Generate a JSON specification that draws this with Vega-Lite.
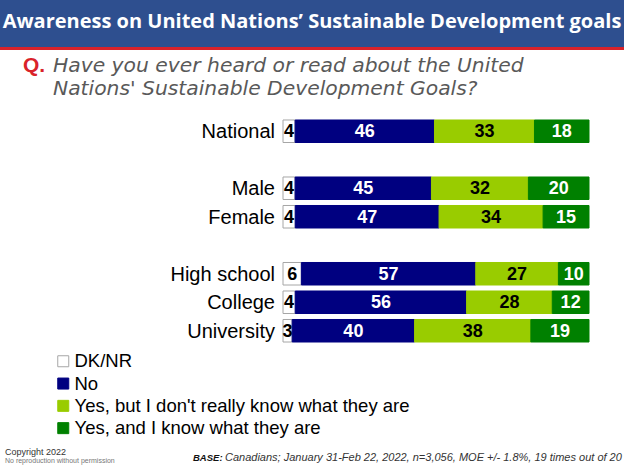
{
  "$schema": "https://vega.github.io/schema/vega-lite/v6.json",
  "width": 624,
  "height": 468,
  "autosize": {"type": "fit", "contains": "padding"},
  "padding": 0,
  "background": "white",
  "config": {"view": {"stroke": null}},
  "data": {"values": [
    {"group": "National", "response": "DK/NR", "value": 4},
    {"group": "National", "response": "No", "value": 46},
    {"group": "National", "response": "Yes, but I don't really know what they are", "value": 33},
    {"group": "National", "response": "Yes, and I know what they are", "value": 18},
    {"group": "Male", "response": "DK/NR", "value": 4},
    {"group": "Male", "response": "No", "value": 45},
    {"group": "Male", "response": "Yes, but I don't really know what they are", "value": 32},
    {"group": "Male", "response": "Yes, and I know what they are", "value": 20},
    {"group": "Female", "response": "DK/NR", "value": 4},
    {"group": "Female", "response": "No", "value": 47},
    {"group": "Female", "response": "Yes, but I don't really know what they are", "value": 34},
    {"group": "Female", "response": "Yes, and I know what they are", "value": 15},
    {"group": "High school", "response": "DK/NR", "value": 6},
    {"group": "High school", "response": "No", "value": 57},
    {"group": "High school", "response": "Yes, but I don't really know what they are", "value": 27},
    {"group": "High school", "response": "Yes, and I know what they are", "value": 10},
    {"group": "College", "response": "DK/NR", "value": 4},
    {"group": "College", "response": "No", "value": 56},
    {"group": "College", "response": "Yes, but I don't really know what they are", "value": 28},
    {"group": "College", "response": "Yes, and I know what they are", "value": 12},
    {"group": "University", "response": "DK/NR", "value": 3},
    {"group": "University", "response": "No", "value": 40},
    {"group": "University", "response": "Yes, but I don't really know what they are", "value": 38},
    {"group": "University", "response": "Yes, and I know what they are", "value": 19}
  ]},
  "layer": [
    {
      "data": {"values": [{}]},
      "mark": {"type": "rect", "x": 0, "x2": 624, "y": 0, "y2": 47, "color": "#2E4F8F"},
      "encoding": {}
    },
    {
      "data": {"values": [{}]},
      "mark": {"type": "rect", "x": 0, "x2": 624, "y": 47, "y2": 50, "color": "#D9222A"},
      "encoding": {}
    },
    {
      "data": {"values": [{}]},
      "mark": {"type": "text", "x": 312, "y": 22, "align": "center", "baseline": "middle", "font": "Open Sans", "fontWeight": "bold", "fontSize": 20, "color": "white", "text": "Awareness on United Nations’ Sustainable Development goals"},
      "encoding": {}
    },
    {
      "data": {"values": [{}]},
      "mark": {"type": "text", "x": 23, "y": 72, "align": "left", "baseline": "alphabetic", "font": "Liberation Sans", "fontWeight": "bold", "fontSize": 21, "color": "#D9222A", "text": "Q."},
      "encoding": {}
    },
    {
      "data": {"values": [{}]},
      "mark": {"type": "text", "x": 53, "y": 72, "align": "left", "baseline": "alphabetic", "font": "DejaVu Sans", "fontStyle": "italic", "fontSize": 20.3, "color": "#595959", "text": "Have you ever heard or read about the United"},
      "encoding": {}
    },
    {
      "data": {"values": [{}]},
      "mark": {"type": "text", "x": 53, "y": 95, "align": "left", "baseline": "alphabetic", "font": "DejaVu Sans", "fontStyle": "italic", "fontSize": 20.3, "color": "#595959", "text": "Nations' Sustainable Development Goals?"},
      "encoding": {}
    },
    {
      "data": {"values": [{}]},
      "mark": {"type": "text", "x": 5, "y": 452, "align": "left", "baseline": "middle", "font": "Liberation Sans", "fontSize": 9, "color": "#333333", "text": "Copyright 2022"},
      "encoding": {}
    },
    {
      "data": {"values": [{}]},
      "mark": {"type": "text", "x": 5, "y": 461, "align": "left", "baseline": "middle", "font": "Liberation Sans", "fontSize": 7, "color": "#777777", "text": "No reproduction without permission"},
      "encoding": {}
    },
    {
      "data": {"values": [{}]},
      "mark": {"type": "text", "x": 193, "y": 458, "align": "left", "baseline": "middle", "font": "Liberation Sans", "fontStyle": "italic", "fontWeight": "bold", "fontSize": 9.5, "color": "#111111", "text": "BASE:"},
      "encoding": {}
    },
    {
      "data": {"values": [{}]},
      "mark": {"type": "text", "x": 225, "y": 458, "align": "left", "baseline": "middle", "font": "Liberation Sans", "fontStyle": "italic", "fontSize": 11, "color": "#333333", "text": "Canadians; January 31-Feb 22, 2022, n=3,056, MOE +/- 1.8%, 19 times out of 20"},
      "encoding": {}
    },
    {
      "transform": [
        {"calculate": "datum.response == 'DK/NR' ? 0 : datum.response == 'No' ? 1 : indexof(datum.response, 'but') > 0 ? 2 : 3", "as": "ord"},
        {"stack": "value", "groupby": ["group"], "offset": "normalize", "sort": [{"field": "ord", "order": "ascending"}], "as": ["x0", "x1"]}
      ],
      "layer": [
        {
          "mark": {"type": "bar", "strokeWidth": 1},
          "encoding": {
            "x": {"field": "x0", "type": "quantitative", "scale": {"domain": [0, 1], "range": [283, 589], "nice": false, "zero": false}, "axis": null},
            "x2": {"field": "x1"},
            "y": {"field": "group", "type": "nominal", "scale": {"domain": ["National", "gap1", "Male", "Female", "gap2", "High school", "College", "University"], "range": [117, 345], "paddingInner": 0.21, "paddingOuter": 0.105}, "axis": null},
            "fill": {"field": "response", "type": "nominal", "scale": {"domain": ["DK/NR", "No", "Yes, but I don't really know what they are", "Yes, and I know what they are"], "range": ["#FFFFFF", "#000080", "#99CC00", "#008000"]}, "legend": {"title": null, "orient": "none", "legendX": 54, "legendY": 352, "symbolType": "square", "symbolSize": 121, "labelFont": "Liberation Sans", "labelFontSize": 18.5, "labelColor": "black", "labelOffset": 2, "rowPadding": 3.3, "padding": 0, "labelLimit": 500, "symbolStrokeWidth": 1}},
            "stroke": {"field": "response", "type": "nominal", "scale": {"domain": ["DK/NR", "No", "Yes, but I don't really know what they are", "Yes, and I know what they are"], "range": ["#A6A6A6", "#000080", "#99CC00", "#008000"]}, "legend": {"title": null, "orient": "none", "legendX": 54, "legendY": 352, "symbolType": "square", "symbolSize": 121, "labelFont": "Liberation Sans", "labelFontSize": 18.5, "labelColor": "black", "labelOffset": 2, "rowPadding": 3.3, "padding": 0, "labelLimit": 500, "symbolStrokeWidth": 1}}
          }
        },
        {
          "transform": [{"calculate": "(datum.x0 + datum.x1) / 2", "as": "mid"}],
          "mark": {"type": "text", "font": "Liberation Sans", "fontWeight": "bold", "fontSize": 18, "baseline": "middle", "align": "center", "dy": 1},
          "encoding": {
            "x": {"field": "mid", "type": "quantitative"},
            "y": {"field": "group", "type": "nominal"},
            "text": {"field": "value", "type": "quantitative"},
            "color": {"condition": {"test": "datum.response == 'No' || indexof(datum.response, 'and I know') >= 0", "value": "white"}, "value": "black"}
          }
        },
        {
          "transform": [{"filter": "datum.response == 'No'"}],
          "mark": {"type": "text", "font": "Liberation Sans", "fontSize": 20, "baseline": "middle", "align": "right", "dx": -8, "dy": 1, "color": "black"},
          "encoding": {
            "x": {"datum": 0, "type": "quantitative"},
            "y": {"field": "group", "type": "nominal"},
            "text": {"field": "group", "type": "nominal"}
          }
        }
      ]
    }
  ]
}
